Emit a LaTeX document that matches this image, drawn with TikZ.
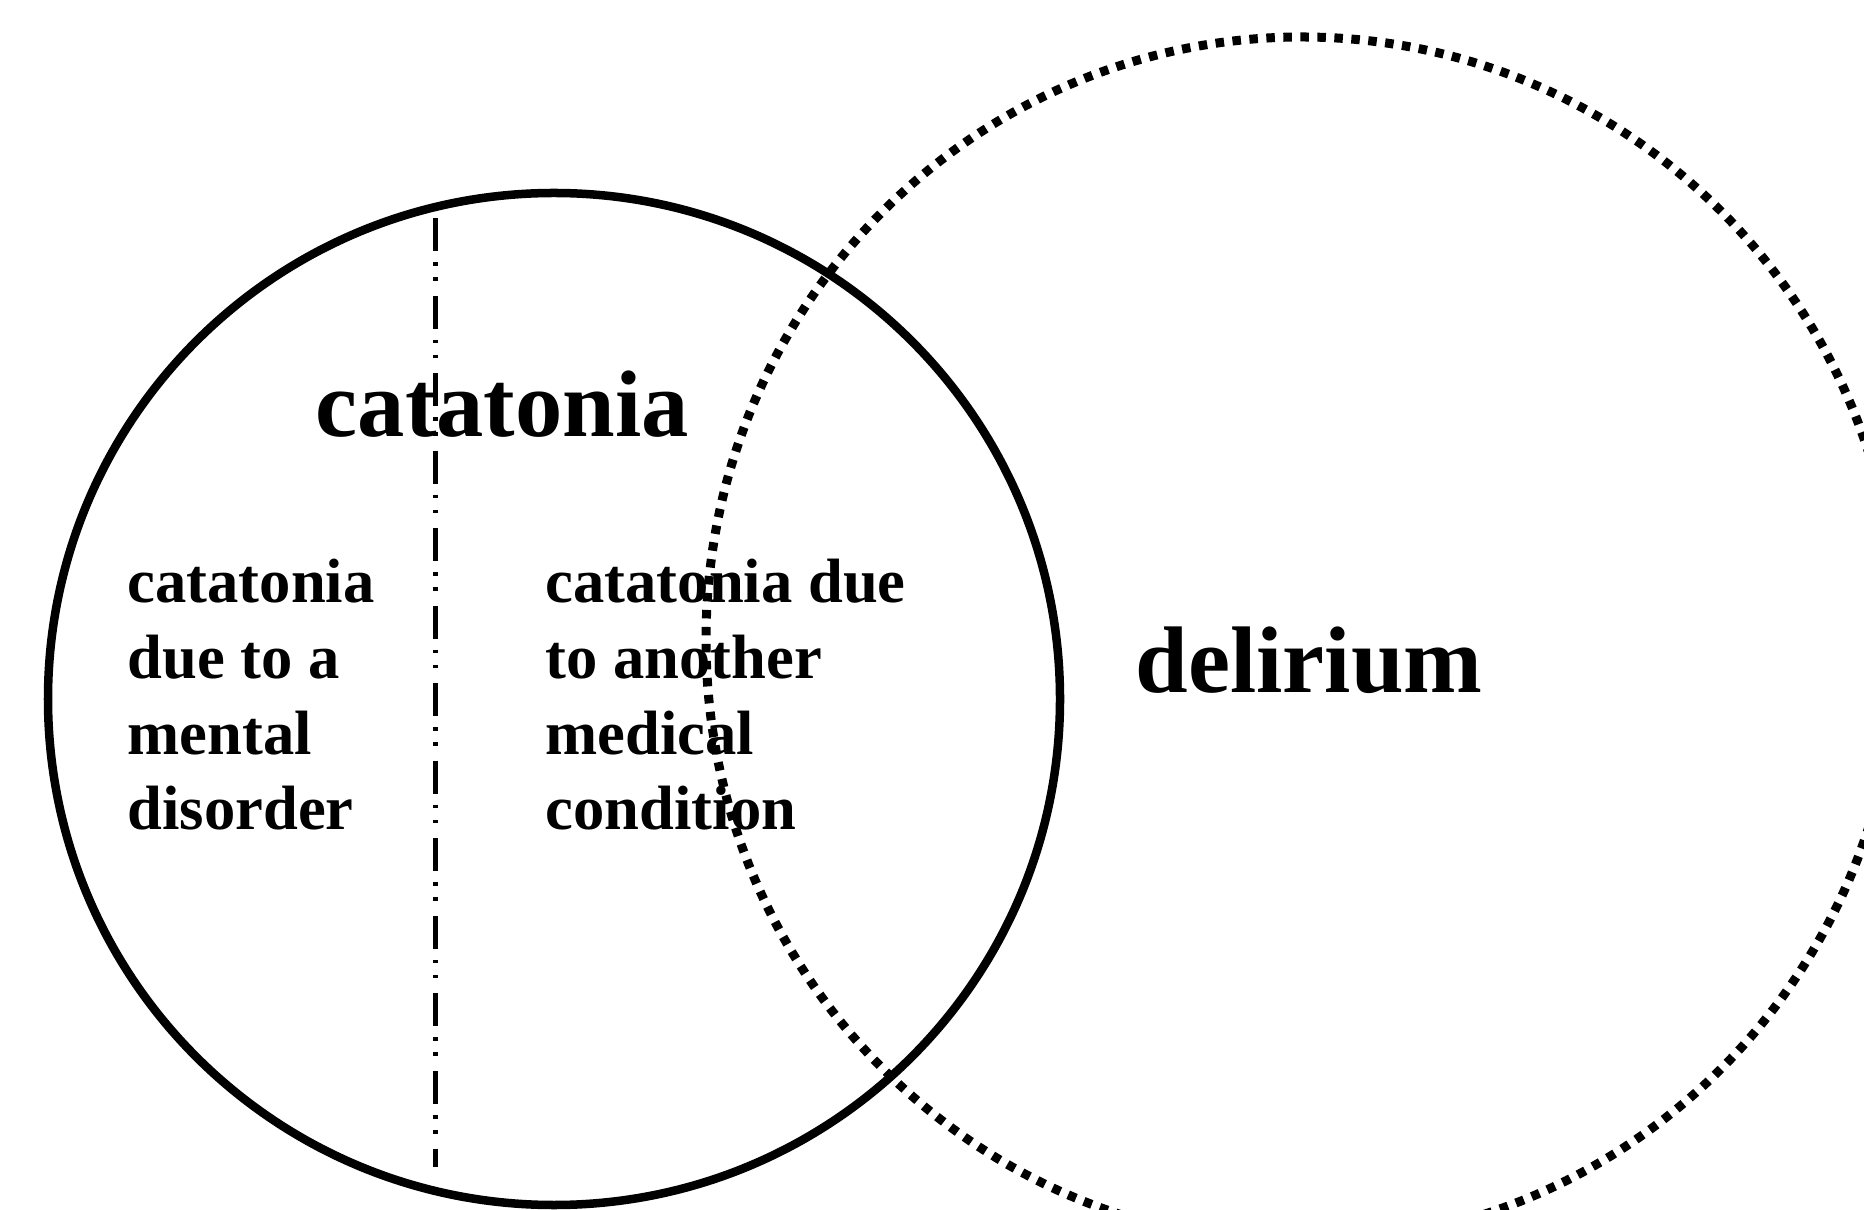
\documentclass[tikz,border=0pt]{standalone}
\usepackage{fontspec}
\setmainfont{Liberation Serif}

\begin{document}
\begin{tikzpicture}[x=0.01cm,y=-0.01cm,
    bigtxt/.style={font=\bfseries\fontsize{26.9pt}{32pt}\selectfont,inner sep=0pt,anchor=base west},
    smalltxt/.style={font=\bfseries\fontsize{17.8pt}{21.6pt}\selectfont,inner sep=0pt,anchor=base west,align=left}]
  \useasboundingbox (0,0) rectangle (1864,1210);
  \clip (0,0) rectangle (1864,1210);
  \node[bigtxt] (cata) at (315,437) {catatonia};
  \node[bigtxt] (deli) at (1135,693) {delirium};
  % multi-line nodes sit on their last line
  \node[smalltxt] (mental) at (127,830) {catatonia\\due to a\\mental\\disorder};
  \node[smalltxt] (medical) at (545,830) {catatonia due\\to another\\medical\\condition};
  % the two sets
  \draw[line width=0.085cm] (554,699) circle[radius=506];
  \draw[line width=0.09cm,dash pattern=on 0.085cm off 0.085cm] (1302,640) ellipse[x radius=596,y radius=603];
  % split of catatonia
  \coordinate (divtop) at (435,218);
  \coordinate (divbot) at (435,1167);
  \draw[line width=0.05cm,dash pattern=on 0.33cm off 0.11cm on 0.035cm off 0.115cm on 0.035cm off 0.15cm] (divtop) -- (divbot);
\end{tikzpicture}
\end{document}
